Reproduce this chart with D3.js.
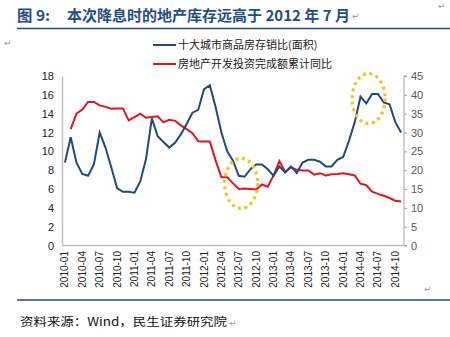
<!DOCTYPE html>
<html><head><meta charset="utf-8">
<script src="https://cdn.jsdelivr.net/npm/d3@7/dist/d3.min.js"></script>
<style>body{margin:0;background:#fff}svg{display:block}</style>
</head><body>
<svg id="c" width="450" height="337"></svg>
<script>
const months = ["2010-01","2010-02","2010-03","2010-04","2010-05","2010-06","2010-07","2010-08","2010-09","2010-10","2010-11","2010-12",
"2011-01","2011-02","2011-03","2011-04","2011-05","2011-06","2011-07","2011-08","2011-09","2011-10","2011-11","2011-12",
"2012-01","2012-02","2012-03","2012-04","2012-05","2012-06","2012-07","2012-08","2012-09","2012-10","2012-11","2012-12",
"2013-01","2013-02","2013-03","2013-04","2013-05","2013-06","2013-07","2013-08","2013-09","2013-10","2013-11","2013-12",
"2014-01","2014-02","2014-03","2014-04","2014-05","2014-06","2014-07","2014-08","2014-09","2014-10","2014-11"];
const tickLabels = ["2010-01","2010-04","2010-07","2010-10","2011-01","2011-04","2011-07","2011-10","2012-01","2012-04","2012-07","2012-10","2013-01","2013-04","2013-07","2013-10","2014-01","2014-04","2014-07","2014-10"];
const inventoryRatio = [8.8,11.5,8.8,7.6,7.4,8.6,12.0,10.4,8.3,6.1,5.7,5.7,5.6,6.8,9.2,13.5,11.6,11.0,10.4,10.9,11.8,12.9,14.1,14.4,16.6,17.0,14.7,12.0,10.0,9.0,7.4,7.3,8.1,8.6,8.6,8.1,7.4,8.4,7.75,8.4,7.7,8.8,9.1,9.1,8.9,8.4,8.4,9.1,9.4,11.1,13.1,15.8,15.1,16.1,16.1,15.2,15.0,13.1,12.0];
const investmentYoY = [null,30.9,35.0,36.1,38.1,38.1,37.2,36.8,36.3,36.4,36.4,33.2,34.1,35.0,33.9,34.1,34.3,32.7,33.4,33.1,31.9,30.9,29.8,27.7,27.6,27.6,22.6,18.1,18.1,16.5,15.0,15.1,15.0,14.9,16.2,15.6,18.6,22.4,19.5,20.8,20.1,19.9,19.9,18.8,19.2,18.6,18.9,19.0,19.2,18.9,18.6,16.4,16.0,14.3,13.7,13.2,12.6,11.9,11.7];
const leftTicks = [0,2,4,6,8,10,12,14,16,18];
const rightTicks = [0,5,10,15,20,25,30,35,40,45];
const seriesNames = ["十大城市商品房存销比(面积)","房地产开发投资完成额累计同比"];
const highlights = [{at:30.4, value:6.6},{at:52.4, value:15.6}];
const titleLabel = "图 9:";
const titleText = "本次降息时的地产库存远高于 2012 年 7 月";
const sourceText = "资料来源：Wind，民生证券研究院";

const svg = d3.select("#c");
const L = 62, R = 404, T = 76, B = 245.5;
const x = d3.scaleLinear().domain([-0.5, months.length - 0.5]).range([L, R]);
const yL = d3.scaleLinear().domain([0, 18]).range([B, T]);
const yR = d3.scaleLinear().domain([0, 45]).range([B, T]);
const blue = "#1F4A7E", red = "#E3151B", gold = "#F4C226";
const cjk = "'Noto Sans CJK SC','Noto Sans',sans-serif";
const num = "'Liberation Sans','DejaVu Sans',sans-serif";

// title
svg.append("text").attr("x",17).attr("y",21).attr("font-family",cjk).attr("font-weight","bold")
  .attr("font-size",14.5).attr("fill","#1F4E82").attr("textLength",33).attr("lengthAdjust","spacingAndGlyphs").text(titleLabel);
svg.append("text").attr("x",67).attr("y",21).attr("font-family",cjk).attr("font-weight","bold")
  .attr("font-size",14.5).attr("fill","#1F4E82").attr("textLength",283).attr("lengthAdjust","spacingAndGlyphs").text(titleText);
svg.append("line").attr("x1",17).attr("x2",450).attr("y1",28.5).attr("y2",28.5).attr("stroke","#1F4E79").attr("stroke-width",1.5);
svg.append("line").attr("x1",17).attr("x2",450).attr("y1",300).attr("y2",300).attr("stroke","#1F4E79").attr("stroke-width",1.5);
const pm = [[438,9],[352,19],[4,46],[424,292],[229,326]];
pm.forEach(p=>svg.append("text").attr("x",p[0]).attr("y",p[1]).attr("font-size",9).attr("font-family","DejaVu Sans").attr("fill","#9a9a9a").text("↵"));
svg.append("text").attr("x",20).attr("y",326).attr("font-family",cjk).attr("font-size",11.5).attr("fill","#111")
  .attr("textLength",207).attr("lengthAdjust","spacingAndGlyphs").text(sourceText);

// legend
[[blue,45],[red,64]].forEach((d,i)=>{
  svg.append("line").attr("x1",153).attr("x2",176).attr("y1",d[1]).attr("y2",d[1]).attr("stroke",d[0]).attr("stroke-width",2);
  svg.append("text").attr("x",178).attr("y",d[1]+4).attr("font-family",cjk).attr("font-size",11).attr("fill","#222").text(seriesNames[i]);
});

// axes
const gL = svg.append("g").attr("transform",`translate(${L},0)`)
  .call(d3.axisLeft(yL).tickValues(leftTicks).tickSize(0).tickPadding(8));
gL.select(".domain").attr("stroke","#BFBFBF").attr("stroke-width",1.5);
gL.selectAll("text").attr("font-family",num).attr("font-size",11).attr("fill","#222");
const gR = svg.append("g").attr("transform",`translate(${R},0)`)
  .call(d3.axisRight(yR).tickValues(rightTicks).tickSize(3).tickPadding(4));
gR.select(".domain").attr("stroke","#A6A6A6").attr("d",`M3,${T}H0V${B}H3`);
gR.selectAll("line").attr("stroke","#A6A6A6");
gR.selectAll("text").attr("font-family",num).attr("font-size",11).attr("fill","#595959");
svg.append("line").attr("x1",L).attr("x2",R).attr("y1",B).attr("y2",B).attr("stroke","#BFBFBF").attr("stroke-width",1.5);

const xt = svg.append("g");
tickLabels.forEach(t=>{
  const i = months.indexOf(t);
  xt.append("text").attr("transform",`translate(${x(i)+3.5},251) rotate(-90)`).attr("text-anchor","end")
    .attr("font-family",num).attr("font-size",10).attr("fill","#222").text(t);
});

// lines
const lineL = d3.line().defined(d=>d!=null).x((d,i)=>x(i)).y(d=>yL(d));
const lineR = d3.line().defined(d=>d!=null).x((d,i)=>x(i)).y(d=>yR(d));
svg.append("path").datum(investmentYoY).attr("d",lineR).attr("fill","none").attr("stroke",red).attr("stroke-width",2);
svg.append("path").datum(inventoryRatio).attr("d",lineL).attr("fill","none").attr("stroke",blue).attr("stroke-width",2);

// highlight ellipses
highlights.forEach(h=>{
  svg.append("ellipse").attr("cx",x(h.at)).attr("cy",yL(h.value)).attr("rx",16.5).attr("ry",25)
    .attr("fill","none").attr("stroke",gold).attr("stroke-width",3.2).attr("stroke-dasharray","3 3.6");
});
</script>
</body></html>
